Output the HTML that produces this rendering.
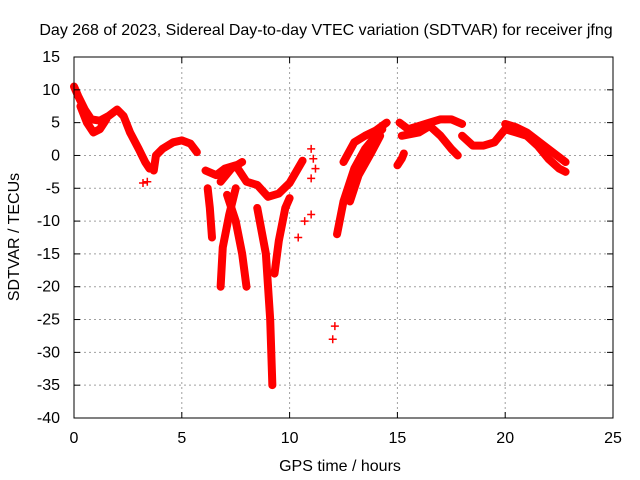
<!DOCTYPE html>
<html><head><meta charset="utf-8"><style>
body{margin:0;background:#fff;}
svg{display:block;font-family:"Liberation Sans",sans-serif;font-size:16px;}
</style></head><body>
<svg id="chart" width="640" height="480" viewBox="0 0 640 480">
<rect width="640" height="480" fill="#fff"/>
<text x="326" y="35" text-anchor="middle">Day 268 of 2023, Sidereal Day-to-day VTEC variation (SDTVAR) for receiver jfng</text>
<g id="grid"></g><g id="series"></g><g id="axes"></g>
<text transform="translate(19,237) rotate(-90)" text-anchor="middle">SDTVAR / TECUs</text>
<text x="340" y="471" text-anchor="middle">GPS time / hours</text>
</svg>
<script>
const xTicks=[0,5,10,15,20,25];
const yTicks=[15,10,5,0,-5,-10,-15,-20,-25,-30,-35,-40];
const trackMain=[[0,10.5],[0.2,9],[0.5,7],[0.8,5.5],[1.2,5.3],[1.6,6],[2,7],[2.3,6],[2.6,3.5],[3,1],[3.3,-1],[3.5,-2]];
const trackLoop=[[0.3,7.5],[0.6,5],[0.9,3.5],[1.2,4],[1.5,5.5]];
const trackB=[[3.7,-2.3],[3.8,0],[4.1,1],[4.6,2],[5,2.3],[5.4,1.8],[5.7,0.5]];
const trackC=[[6.2,-5],[6.3,-8],[6.4,-12.5]];
const trackMid=[[6.1,-2.3],[6.6,-3],[7,-2],[7.5,-1.5],[8,-4],[8.5,-4.5],[9,-6.3],[9.5,-5.8],[10,-4.2],[10.3,-2.5],[10.6,-0.8]];
const trackUpper=[[6.8,-4],[7.3,-2],[7.8,-1]];
const dip1=[[7.5,-5],[7.2,-9],[6.9,-14],[6.8,-20]];
const dip2=[[7.1,-6],[7.5,-10],[7.8,-15],[8,-20]];
const dip3=[[8.5,-8],[8.9,-15],[9.1,-25],[9.2,-35]];
const dip4=[[9.3,-18],[9.5,-13],[9.8,-8],[10,-6.5]];
const scatterPts=[[10.4,-12.5],[10.7,-10],[11,-9],[11,-3.5],[11,1],[11.2,-2],[11.1,-0.5],[12,-28],[12.1,-26],[3.2,-4.2],[3.4,-4]];
const trackD=[[12.2,-12],[12.5,-7],[13,-2],[13.5,1],[14,3],[14.3,4]];
const trackE=[[12.8,-7],[13.2,-3],[13.8,0.5],[14.2,3]];
const trackF=[[12.5,-1],[13,2],[13.5,3],[14,3.8],[14.5,5]];
const trackG=[[15,-1.5],[15.2,-0.5],[15.3,0.3]];
const trackH=[[15.1,5],[15.5,4],[16,4.5],[16.5,5],[17,5.5],[17.5,5.5],[18,4.8]];
const trackI=[[15.2,3],[16,3.5],[16.5,4.5],[17,3],[17.5,1],[17.8,0]];
const trackJ=[[18,3],[18.5,1.5],[19,1.5],[19.5,2],[20,4],[20.5,3.5],[21,3],[21.5,1.5],[22,-0.5],[22.5,-2],[22.8,-2.5]];
const trackK=[[20,4.8],[20.5,4.3],[21,3.5],[22,1],[22.8,-1]];
const tracks=[trackMain,trackLoop,trackB,trackC,trackMid,trackUpper,dip1,dip2,dip3,dip4,trackD,trackE,trackF,trackG,trackH,trackI,trackJ,trackK];
const X0=74,X1=613,Y0=418,Y1=57;
const sx=v=>X0+(v-0)/25*(X1-X0);
const sy=v=>Y0-(v+40)/55*(Y0-Y1);
const NS="http://www.w3.org/2000/svg";
function mk(t,a,p){const e=document.createElementNS(NS,t);for(const k in a)e.setAttribute(k,a[k]);p.appendChild(e);return e;}
const grid=document.getElementById('grid'),axes=document.getElementById('axes'),ser=document.getElementById('series');
xTicks.forEach(t=>{
 const g=mk('line',{x1:sx(t),x2:sx(t),y1:Y1,y2:Y0,stroke:'#a0a0a0','stroke-dasharray':'2,3'},grid);
 
 
 const l=mk('text',{x:sx(t),y:443,'text-anchor':'middle'},axes);l.textContent=t;
 
 
 mk('line',{x1:sx(t),x2:sx(t),y1:Y0,y2:Y0-6,stroke:'#000'},axes);
 mk('line',{x1:sx(t),x2:sx(t),y1:Y1,y2:Y1+6,stroke:'#000'},axes);
});
yTicks.forEach(t=>{
 const g=mk('line',{x1:X0,x2:X1,y1:sy(t),y2:sy(t),stroke:'#a0a0a0','stroke-dasharray':'2,3'},grid);
 
 
 const l=mk('text',{x:60,y:sy(t)+5,'text-anchor':'end'},axes);l.textContent=t;
 
 
 mk('line',{x1:X0,x2:X0+6,y1:sy(t),y2:sy(t),stroke:'#000'},axes);
 mk('line',{x1:X1,x2:X1-6,y1:sy(t),y2:sy(t),stroke:'#000'},axes);
});
const fr=mk('rect',{x:X0,y:Y1,width:X1-X0,height:Y0-Y1,fill:'none',stroke:'#000'},axes);


tracks.forEach(tr=>{
 const p=mk('polyline',{points:tr.map(d=>sx(d[0])+','+sy(d[1])).join(' '),fill:'none',stroke:'#f00','stroke-width':8,'stroke-linejoin':'round','stroke-linecap':'round'},ser);
 
 
});
scatterPts.forEach(d=>{
 const p=mk('path',{d:`M${sx(d[0])-4},${sy(d[1])}h8M${sx(d[0])},${sy(d[1])-4}v8`,stroke:'#f00','stroke-width':1.5},ser);
 
 
});
</script>
</body></html>
